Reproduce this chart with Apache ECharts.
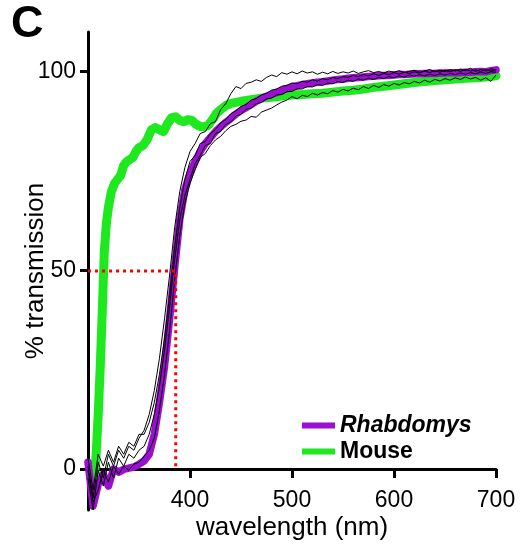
<!DOCTYPE html>
<html>
<head>
<meta charset="utf-8">
<script src="https://cdn.jsdelivr.net/npm/echarts@6/dist/echarts.min.js"></script>
<style>
html,body{margin:0;padding:0;background:#fff;}
#c{width:520px;height:555px;}
</style>
</head>
<body>
<div id="c"></div>
<script>
// wavelength grid (nm) for Rhabdomys and individual traces
const wl = [300,305,310,315,320,325,330,335,340,345,350,355,360,365,370,375,380,385,390,395,
400,405,410,415,420,425,430,435,440,445,450,455,460,465,470,475,480,485,490,495,
500,505,510,515,520,525,530,535,540,545,550,555,560,565,570,575,580,585,590,595,
600,605,610,615,620,625,630,635,640,645,650,655,660,665,670,675,680,685,690,695,700];

// Rhabdomys mean transmission (%)
const rhabdomys = [2,-9,-3.5,-1,-4,0.3,-0.5,0.2,0.5,0.8,1.5,2.3,4,9,17,26,38,51,63,70.5,
74.5,77.5,80,82,83.5,85,86.2,87.3,88.3,89.4,90.3,91,91.8,92.6,93.3,93.9,94.4,94.8,95.3,95.8,
96.2,96.5,96.8,97,97.2,97.4,97.5,97.7,97.9,98.1,98.2,98.4,98.5,98.6,98.7,98.8,98.9,99,99.1,99.1,
99.2,99.3,99.3,99.4,99.5,99.5,99.6,99.6,99.6,99.7,99.7,99.8,99.8,99.8,99.9,99.9,100,100.1,100,100.3,100.5];

// individual Rhabdomys traces (%)
const traceA = [1,-7,2,-2,4,1,5,3,6,5,8,10,14,20,28,38,49,61,70,76,
80,82,84.5,85,87,87.5,90.5,92,94.5,96.3,95.8,97.1,97.4,98,97.6,98.6,99.2,98.8,99.8,99.4,
100,99.5,100.2,99.7,100,99.4,99.9,99.5,100.1,99.6,100,99.7,100.2,99.6,100,100.3,99.8,100.1,99.7,100.2,
99.9,100.3,99.8,100.1,100.4,99.9,100.2,100.6,100,100.4,100.1,100.5,100.2,100.7,100.3,100.9,100.1,100.6,100.2,100.8,100.4];
const traceB = [0,-8,-5,0,-3,1,-1,1,0,1.5,2,3.5,5,8,15,24,35,48,59,67,
72,75.5,78.5,79.5,81.5,82.9,83.8,85.2,86.3,86.8,87.6,87.9,88.8,88.6,89.9,90.4,90.9,91.7,92.4,92.9,
93.8,93.2,94.1,93.8,94.6,94.2,94.8,94.5,95.3,94.9,95.6,95.2,95.9,95.5,96.3,95.8,96.6,96.1,96.8,96.4,
97.1,96.7,97.3,97,97.6,97.2,97.9,97.4,98.1,97.7,98.3,97.9,98.5,98.1,98.7,98.2,98.6,97.9,98.5,97.6,99.2];
const traceC = [3,-5,4,1,5,2,6,4,7,6,9,9,12,17,24,33,44,56,66,73,
77.5,79,82,82.5,84.5,85.5,87.2,88,89.5,90.2,91.3,91.8,92.9,93.3,94.2,94.6,95.4,95.7,96.4,96.6,
97.2,97,97.6,97.4,98,97.7,98.3,98,98.6,98.3,98.8,98.6,99.1,98.8,99.3,99,99.5,99.1,99.6,99.3,
99.8,99.4,99.9,99.6,100,99.7,100.2,99.8,100.3,99.9,100.4,100,100.5,100.1,100.6,100.2,100.5,100.1,100.6,100.2,100.6];
const traceD = [-2,-10,0,-4,2,-2,3,1,4,3,5,6,9,14,21,30,41,53,63,69,
73,77,79,81.5,82,84.5,85,86.8,87.4,88.9,89.3,90.6,90.9,92,92.3,93.2,93.4,94.2,94.3,95,
95.1,95.7,95.7,96.3,96.2,96.8,96.6,97.2,97,97.6,97.3,97.9,97.6,98.2,97.9,98.4,98.1,98.6,98.3,98.8,
98.5,99,98.7,99.2,98.9,99.3,99,99.4,99.1,99.5,99.2,99.6,99.3,99.7,99.4,99.8,99.5,99.9,99.6,100,99.9];

// Mouse transmission (%)
const mouseWl = [306,308,310,312,314,316,318,320,323,326,329,332,335,338,341,344,347,350,354,358,
362,366,370,374,378,382,386,390,394,398,402,406,410,414,418,422,426,430,435,440,
450,460,470,480,490,500,510,520,530,540,550,560,570,580,590,600,610,620,630,640,
650,660,670,680,690,700];
const mouse = [-2,4,14,26,40,55,62,66,70,72,73,74,76.5,77.5,78,78.5,80,81,81.5,83,
85.4,86,85.5,85,87,88.5,88.7,87.8,87.5,88,87.8,86.8,86.3,86.2,86.6,88,89.6,90.5,91.5,92.1,
92.6,93,93.4,93.6,93.9,94.2,94.3,94.5,94.6,94.9,95.2,95.4,95.7,96.1,96.4,96.7,97,97.3,97.6,97.8,
98,98.2,98.4,98.5,98.7,99];

// 50% transmission marker
const halfWl = [300,386,386];
const halfT = [50,50,0];

// axis ranges / tick steps
const xMin = 300, xMax = 700, xStep = 100;
const yMin = -10, yMax = 110, yStep = 50;

const zip = (xs, ys) => xs.map((x,i)=>[x, ys[i]]);
const FONT = '"Liberation Sans", Arial, sans-serif';

const thin = (d) => ({
  type:'line', data: zip(wl,d), showSymbol:false, symbol:'none', silent:true,
  lineStyle:{color:'#000', width:1}, z:4
});

const chart = echarts.init(document.getElementById('c'), null, {renderer:'canvas'});
chart.setOption({
  animation:false,
  backgroundColor:'#fff',
  textStyle:{fontFamily:FONT},
  graphic:[{type:'text', left:11, top:2, style:{text:'C', font:'bold 45px ' + FONT, fill:'#000'}}],
  grid:[
    // full plotting area, y from -10 to 110
    {left:88, right:24, top:32, bottom:45, containLabel:false, outerBoundsMode:'none'},
    // frame whose bottom edge is y = 0, carries the x axis and y ticks
    {left:88, right:24, top:32, bottom:86, containLabel:false, outerBoundsMode:'none'}
  ],
  legend:{
    orient:'vertical', left:297, top:409, itemWidth:33, itemHeight:6, itemGap:3, icon:'rect',
    data:['Rhabdomys','Mouse'],
    textStyle:{fontSize:23, fontWeight:'bold', color:'#000', fontFamily:FONT,
      rich:{i:{fontSize:23, fontWeight:'bold', fontStyle:'italic', fontFamily:FONT, color:'#000'}}},
    formatter:(n)=> n==='Rhabdomys' ? '{i|Rhabdomys}' : n
  },
  xAxis:[
    {type:'value', gridIndex:0, min:xMin, max:xMax, show:false},
    {
      type:'value', gridIndex:1, min:xMin, max:xMax, interval:xStep,
      name:'wavelength (nm)', nameLocation:'middle', nameGap:46, nameMoveOverlap:false,
      nameTextStyle:{fontSize:26, color:'#000', fontFamily:FONT},
      axisLine:{show:true, onZero:false, lineStyle:{color:'#000', width:3}},
      axisTick:{show:true, length:9, lineStyle:{color:'#000', width:3}},
      axisLabel:{show:true, showMinLabel:false, fontSize:23, color:'#000', margin:20, fontFamily:FONT},
      splitLine:{show:false}
    }
  ],
  yAxis:[
    {
      type:'value', gridIndex:0, min:yMin, max:yMax,
      name:'% transmission', nameLocation:'middle', nameGap:39, nameMoveOverlap:false,
      nameTextStyle:{fontSize:26, color:'#000', fontFamily:FONT},
      axisLine:{show:true, onZero:false, lineStyle:{color:'#000', width:3}},
      axisTick:{show:false}, axisLabel:{show:false},
      splitLine:{show:false}
    },
    {
      type:'value', gridIndex:1, min:0, max:yMax, interval:yStep,
      axisLine:{show:false},
      axisTick:{show:true, length:8, lineStyle:{color:'#000', width:3}},
      axisLabel:{show:true, showMaxLabel:false, fontSize:23, color:'#000', margin:12, fontFamily:FONT},
      splitLine:{show:false}
    }
  ],
  series:[
    {name:'Mouse', type:'line', data:zip(mouseWl,mouse), showSymbol:false, symbol:'none',
     lineStyle:{color:'#1ee81e', width:9, join:'round', cap:'round'}, itemStyle:{color:'#1ee81e'}, z:2},
    {name:'Rhabdomys', type:'line', data:zip(wl,rhabdomys), showSymbol:false, symbol:'none',
     lineStyle:{color:'#9a0fd0', width:7.5, join:'round', cap:'round'}, itemStyle:{color:'#9a0fd0'}, z:3},
    thin(traceA), thin(traceB), thin(traceC), thin(traceD),
    {type:'line', data:zip(halfWl,halfT), showSymbol:false, symbol:'none', silent:true,
     lineStyle:{color:'#ff0000', width:3, type:[3,4]}, z:5}
  ]
});
</script>
</body>
</html>
